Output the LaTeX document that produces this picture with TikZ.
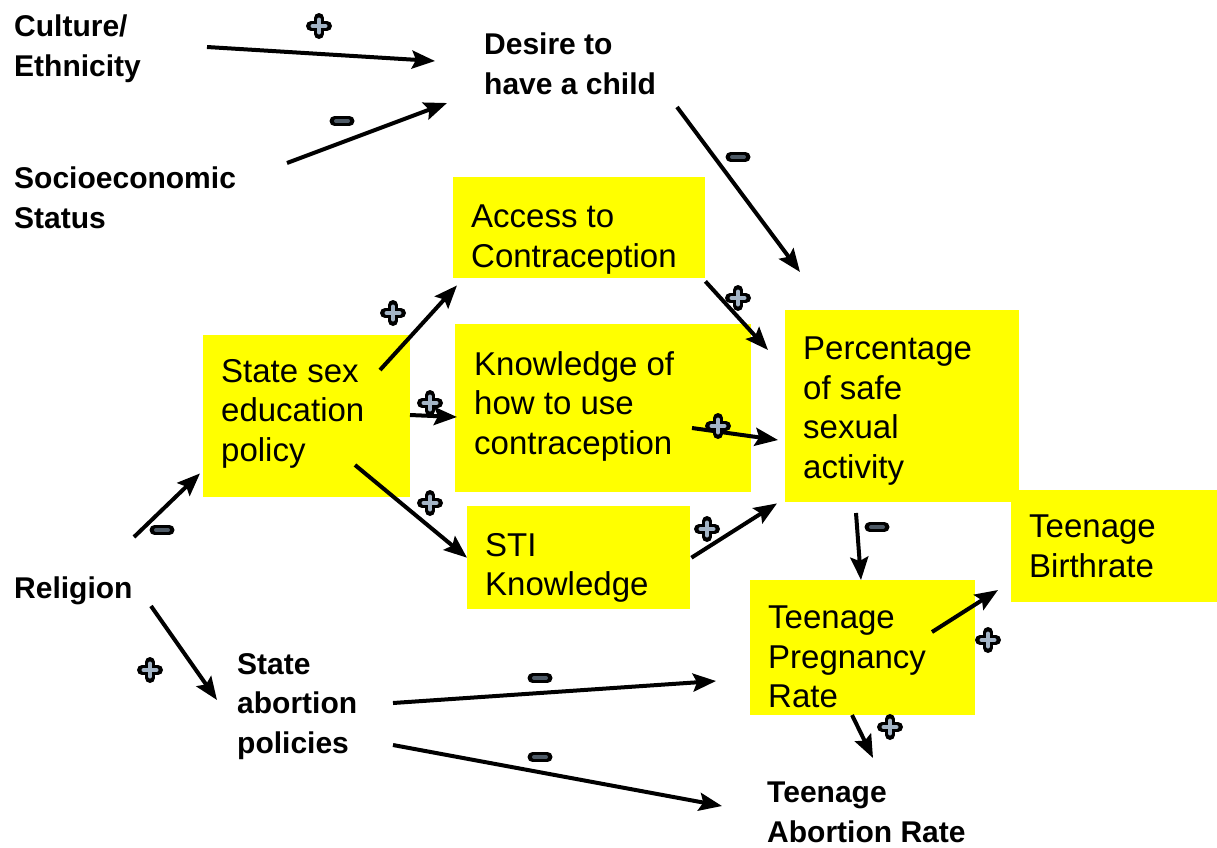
\documentclass[tikz,border=0pt]{standalone}
\usepackage{fontspec}
\setmainfont{Liberation Sans}
\usetikzlibrary{arrows.meta,calc}
\definecolor{boxyellow}{HTML}{FFFF00}
\definecolor{plusfill}{HTML}{A3B4C6}
\definecolor{minusfill}{HTML}{4E5A66}
\begin{document}
\begin{tikzpicture}[x=1pt,y=-1pt,
  ybox/.style={fill=boxyellow, draw=none, inner sep=0pt, anchor=north west},
  ytext/.style={font=\fontsize{33}{39.5}\selectfont, align=left, inner sep=0pt, anchor=north west},
  btext/.style={font=\bfseries\fontsize{30}{39.5}\selectfont, align=left, inner sep=0pt, anchor=north west},
  arr/.style={line width=4pt, -{Stealth[length=23pt,width=18pt,inset=4pt]}},
  possign/.pic={
    \draw[line width=10pt, line cap=round] (-8,0)--(8,0) (0,-8)--(0,8);
    \draw[plusfill, line width=4pt, line cap=round] (-6.5,0)--(6.5,0) (0,-6.5)--(0,6.5);
  },
  negsign/.pic={
    \draw[line width=10pt, line cap=round] (-7.5,0)--(7.5,0);
    \draw[minusfill, line width=4pt, line cap=round] (-6,0)--(6,0);
  }
]
\useasboundingbox (0,0) rectangle (1217,847);

% yellow boxes
\node[ybox, minimum width=252pt, minimum height=101pt] (access) at (453,177) {};
\node[ybox, minimum width=207pt, minimum height=162pt] (statesex) at (203,335) {};
\node[ybox, minimum width=296pt, minimum height=168pt] (know) at (455,324) {};
\node[ybox, minimum width=223pt, minimum height=103pt] (sti) at (467,506) {};
\node[ybox, minimum width=234pt, minimum height=192pt] (pct) at (785,310) {};
\node[ybox, minimum width=206pt, minimum height=112pt] (birth) at (1011,490) {};
\node[ybox, minimum width=225pt, minimum height=135pt] (preg) at (750,580) {};

% texts in boxes
\node[ytext] (accesst) at (471,205) {Access to\\Contraception};
\node[ytext] (statesext) at (221,359) {State sex\\education\\policy};
\node[ytext] (knowt) at (474,351) {Knowledge of\\how to use\\contraception};
\node[ytext] (stit) at (485,533) {STI\\Knowledge};
\node[ytext] (pctt) at (803,337) {Percentage\\of safe\\sexual\\activity};
\node[ytext] (birtht) at (1029,515) {Teenage\\Birthrate};
\node[ytext] (pregt) at (768,606) {Teenage\\Pregnancy\\Rate};

% plain labels
\node[btext] (cult) at (14,15) {Culture/\\Ethnicity};
\node[btext] (socio) at (14,167) {Socioeconomic\\Status};
\node[btext] (desire) at (484,33) {Desire to\\have a child};
\node[btext] (relig) at (14,577) {Religion};
\node[btext] (abort) at (237,653) {State\\abortion\\policies};
\node[btext] (abrate) at (767,782) {Teenage\\Abortion Rate};

% connectors
\draw[arr] ($(cult.north west)+(193,32)$) -- ($(desire.north west)+(-49,28)$);
\draw[arr] ($(socio.north west)+(273,-4)$) -- ($(desire.north west)+(-37,70)$);
\draw[arr] ($(desire.north west)+(193,74)$) -- ($(pct.north west)+(15,-38)$);
\draw[arr] ($(access.south east)+(0,3)$) -- ($(pct.north west)+(-17,40)$);
\draw[arr] ($(know.north west)+(237,104)$) -- ($(pct.north west)+(-7,130)$);
\draw[arr] ($(sti.east)+(1,0)$) -- ($(pct.south west)+(-8,1)$);
\draw[arr] ($(statesex.north west)+(177,35)$) -- ($(access.south west)+(4,7)$);
\draw[arr] ($(statesex.north west)+(207,80)$) -- ($(know.north west)+(2,93)$);
\draw[arr] ($(statesex.north west)+(152,130)$) -- (sti.west);
\draw[arr] ($(relig.north west)+(120,-40)$) -- ($(statesex.south west)+(-3,-24)$);
\draw[arr] ($(relig.north west)+(137,29)$) -- ($(abort.north west)+(-20,47)$);
\draw[arr] ($(abort.north west)+(156,50)$) -- ($(preg.north west)+(-34,101)$);
\draw[arr] ($(abort.north west)+(156,92)$) -- ($(abrate.north west)+(-45,24)$);
\draw[arr] ($(pct.north west)+(71,203)$) -- ($(preg.north west)+(111,0)$);
\draw[arr] ($(preg.north west)+(182,52)$) -- ($(birth.north west)+(-13,100)$);
\draw[arr] ($(preg.north west)+(102,135)$) -- ($(abrate.north west)+(106,-24)$);

% polarity signs
\pic at (319,26) {possign};
\pic at (342,121) {negsign};
\pic at (738,157) {negsign};
\pic at (738,298) {possign};
\pic at (718,426) {possign};
\pic at (707,529) {possign};
\pic at (393,313) {possign};
\pic at (430,403) {possign};
\pic at (430,503) {possign};
\pic at (162,530) {negsign};
\pic at (150,670) {possign};
\pic at (540,678) {negsign};
\pic at (540,757) {negsign};
\pic at (877,527) {negsign};
\pic at (988,640) {possign};
\pic at (890,727) {possign};
\end{tikzpicture}
\end{document}
